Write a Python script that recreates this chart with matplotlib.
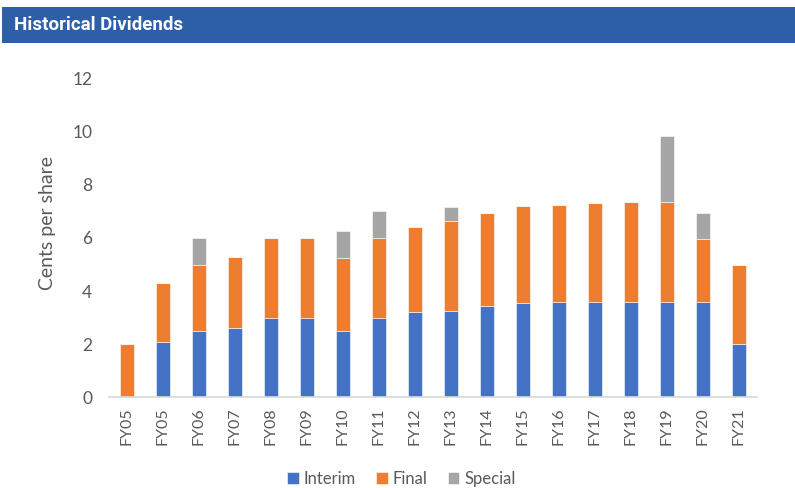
import matplotlib
matplotlib.use("Agg")
import matplotlib.pyplot as plt
from matplotlib.patches import Rectangle
import numpy as np

categories = ["FY05", "FY05", "FY06", "FY07", "FY08", "FY09", "FY10", "FY11", "FY12",
              "FY13", "FY14", "FY15", "FY16", "FY17", "FY18", "FY19", "FY20", "FY21"]
interim = [0.0, 2.1, 2.5, 2.6, 3.0, 3.0, 2.5, 3.0, 3.2, 3.25, 3.45, 3.55, 3.6, 3.6, 3.6, 3.6, 3.6, 2.0]
final = [2.0, 2.2, 2.5, 2.7, 3.0, 3.0, 2.75, 3.0, 3.2, 3.4, 3.5, 3.65, 3.65, 3.7, 3.75, 3.75, 2.35, 3.0]
special = [0.0, 0.0, 1.0, 0.0, 0.0, 0.0, 1.0, 1.0, 0.0, 0.5, 0.0, 0.0, 0.0, 0.0, 0.0, 2.5, 1.0, 0.0]
yticks = [0, 2, 4, 6, 8, 10, 12]

text_color = "#595959"
plt.rcParams['font.family'] = ['Lato', 'DejaVu Sans']

fig = plt.figure(figsize=(7.95, 4.88), dpi=100)

# Title bar
fig.patches.append(Rectangle((2 / 795, 1 - 43 / 488), 795 / 795, 36 / 488,
                             transform=fig.transFigure, facecolor="#2D5EA8",
                             edgecolor="none", zorder=0))
fig.text(14 / 795, 1 - 25.5 / 488, "Historical Dividends", color="white",
         fontsize=13.5, fontweight="bold", va="center", ha="left",
         family=['Liberation Sans Narrow', 'Roboto', 'DejaVu Sans'])

ax = fig.add_axes([0.137, 0.1859, 0.815, 0.653])
x = np.arange(len(categories))
w = 0.4
bot2 = [a + b for a, b in zip(interim, final)]
ax.bar(x, interim, w, color="#4472C4", label="Interim", edgecolor="white", linewidth=0.4)
ax.bar(x, final, w, bottom=interim, color="#ED7D31", label="Final", edgecolor="white", linewidth=0.4)
ax.bar(x, special, w, bottom=bot2, color="#A5A5A5", label="Special", edgecolor="white", linewidth=0.4)

ax.set_xlim(-0.5, len(categories) - 0.5)
ax.set_ylim(0, 12)
ax.set_yticks(yticks)
ax.set_yticklabels([str(t) for t in yticks], fontsize=12.5, color=text_color)
ax.set_xticks(x)
ax.set_xticklabels(categories, rotation=90, fontsize=11.5, color=text_color)
ax.tick_params(axis="both", length=0)
ax.tick_params(axis="y", pad=12)
ax.tick_params(axis="x", pad=7)
for s in ["top", "right", "left"]:
    ax.spines[s].set_visible(False)
ax.spines["bottom"].set_color("#D9D9D9")
ax.spines["bottom"].set_linewidth(1.2)
fig.text(47 / 795, 1 - 222.5 / 488, "Cents per share", rotation=90, fontsize=14,
         color=text_color, ha="center", va="center")

leg = fig.legend(loc="center", bbox_to_anchor=(0.505, 1 - 479 / 488), ncol=3,
                 frameon=False, fontsize=12, handlelength=0.7, handleheight=0.7,
                 columnspacing=1.2, handletextpad=0.3)
for t in leg.get_texts():
    t.set_color(text_color)

fig.savefig("out.png", dpi=100)
